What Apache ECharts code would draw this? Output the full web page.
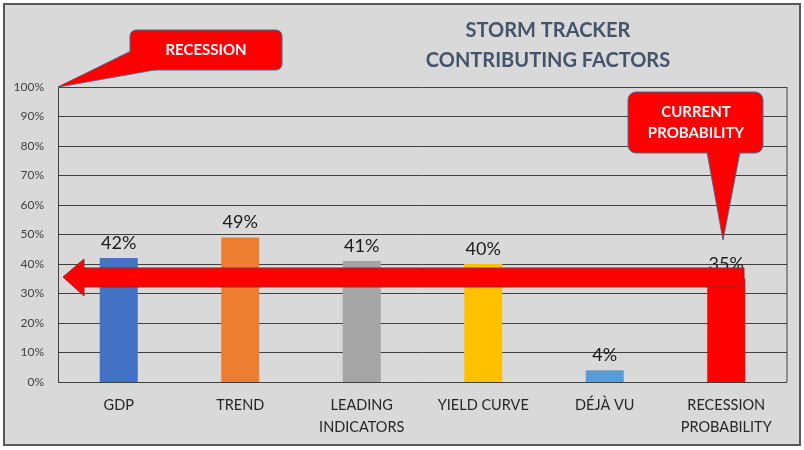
<!DOCTYPE html>
<html><head><meta charset="utf-8">
<script src="https://cdn.jsdelivr.net/npm/echarts@6/dist/echarts.min.js"></script>
<style>html,body{margin:0;padding:0;background:#fff}#c{width:804px;height:450px}</style>
</head><body><div id="c"></div>
<script>
const categories = ['GDP', 'TREND', 'LEADING\nINDICATORS', 'YIELD CURVE', 'DÉJÀ VU', 'RECESSION\nPROBABILITY'];
const values = [0.42, 0.49, 0.41, 0.40, 0.04, 0.35];
const colors = ['#4472c4', '#ed7d31', '#a5a5a5', '#ffc000', '#5b9bd5', '#ff0000'];
const titleLines = ['STORM TRACKER', 'CONTRIBUTING FACTORS'];

const chart = echarts.init(document.getElementById('c'));
const font = 'Lato, "Open Sans", sans-serif';
chart.setOption({
  animation: false,
  backgroundColor: '#fff',
  grid: { left: 58, right: 17, top: 87, bottom: 68 },
  xAxis: {
    type: 'category', data: categories,
    axisLine: { show: false }, axisTick: { show: false },
    axisLabel: { interval: 0, hideOverlap: false, color: '#262626', fontSize: 14.5, fontFamily: font, margin: 12, lineHeight: 22 }
  },
  yAxis: {
    type: 'value', min: 0, max: 1, interval: 0.1,
    axisLine: { show: true, lineStyle: { color: '#404040' } },
    axisLabel: { color: '#404040', fontSize: 12, fontFamily: font, margin: 14,
      formatter: v => Math.round(v * 100) + '%' },
    splitLine: { lineStyle: { color: '#404040', width: 1 } }
  },
  series: [{
    type: 'bar', barWidth: 38,
    data: values.map((v, i) => ({ value: v, itemStyle: { color: colors[i] } })),
    label: { show: true, position: 'top', distance: 6, color: '#1a1a1a', fontSize: 18, fontFamily: font,
      formatter: p => Math.round(p.value * 100) + '%' },
    z: 2
  }],
  graphic: [
    { type: 'rect', z: -10, silent: true, shape: { x: 4, y: 4, width: 796, height: 441 },
      style: { fill: '#d9d9d9', stroke: '#595959', lineWidth: 2 } },
    { type: 'line', z: 1, shape: { x1: 787, y1: 87, x2: 787, y2: 382 }, style: { stroke: '#404040', lineWidth: 1 } },
    { type: 'text', z: 10, style: { x: 548, y: 31, text: titleLines[0], align: 'center', verticalAlign: 'middle',
      fill: '#44546a', font: 'bold 20px ' + font } },
    { type: 'text', z: 10, style: { x: 548, y: 61, text: titleLines[1], align: 'center', verticalAlign: 'middle',
      fill: '#44546a', font: 'bold 20px ' + font } },
    // Recession callout
    { type: 'polygon', z: 20, shape: { points: [[58, 87], [133, 50], [160, 69]] },
      style: { fill: '#ff0000', stroke: '#41719c', lineWidth: 1 } },
    { type: 'rect', z: 21, shape: { x: 130, y: 30, width: 152, height: 40, r: 6 },
      style: { fill: '#ff0000', stroke: '#41719c', lineWidth: 1 } },
    { type: 'polygon', z: 22, shape: { points: [[58.5, 86.5], [134, 51], [159, 68.5]] },
      style: { fill: '#ff0000' } },
    { type: 'text', z: 23, style: { x: 206, y: 50, text: 'RECESSION', align: 'center', verticalAlign: 'middle',
      fill: '#fff', font: 'bold 15px ' + font } },
    // Current probability callout
    { type: 'polygon', z: 20, shape: { points: [[707, 152], [723, 240], [740, 152]] },
      style: { fill: '#ff0000', stroke: '#41719c', lineWidth: 1 } },
    { type: 'rect', z: 21, shape: { x: 628, y: 92, width: 135, height: 61, r: 8 },
      style: { fill: '#ff0000', stroke: '#41719c', lineWidth: 1 } },
    { type: 'polygon', z: 22, shape: { points: [[708, 152], [723, 238], [739, 152]] },
      style: { fill: '#ff0000' } },
    { type: 'text', z: 23, style: { x: 696, y: 112, text: 'CURRENT', align: 'center', verticalAlign: 'middle',
      fill: '#fff', font: 'bold 15px ' + font } },
    { type: 'text', z: 23, style: { x: 696, y: 133, text: 'PROBABILITY', align: 'center', verticalAlign: 'middle',
      fill: '#fff', font: 'bold 15px ' + font } },
    // Big arrow
    { type: 'polygon', z: 30, shape: { points: [[63, 277], [84, 259], [84, 268], [744, 268], [744, 287], [84, 287], [84, 296]] },
      style: { fill: '#ff0000', stroke: '#8b2a2a', lineWidth: 1 } }
  ]
});
</script></body></html>
